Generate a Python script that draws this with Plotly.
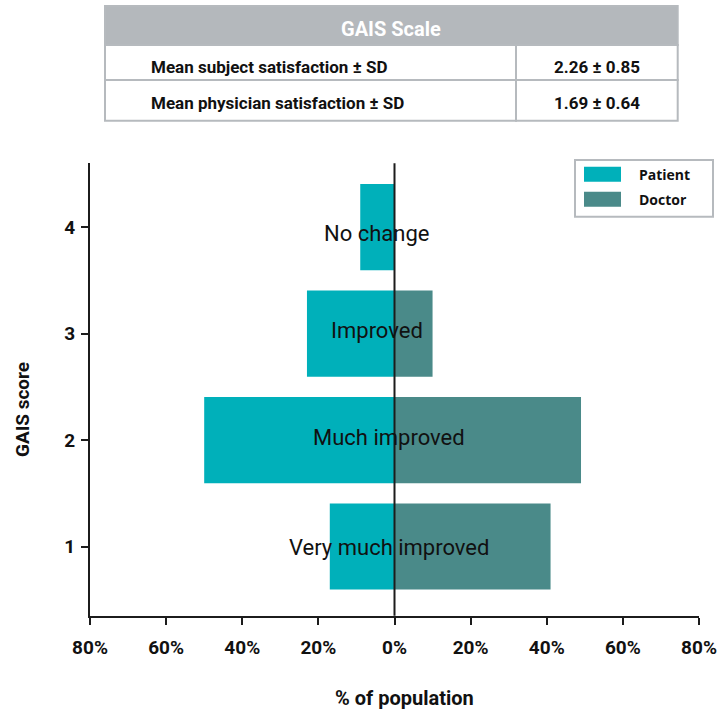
import plotly.graph_objects as go

# ---- data ----
scores = [1, 2, 3, 4]
categories = ["Very much improved", "Much improved", "Improved", "No change"]
patient_pct = [17, 50, 23, 9]
doctor_pct = [41, 49, 10, 0]
x_ticks = [-80, -60, -40, -20, 0, 20, 40, 60, 80]
x_tick_text = ["80%", "60%", "40%", "20%", "0%", "20%", "40%", "60%", "80%"]

table_title = "GAIS Scale"
table_rows = ["Mean subject satisfaction ± SD", "Mean physician satisfaction ± SD"]
table_values = ["2.26 ± 0.85", "1.69 ± 0.64"]

series_names = ["Patient", "Doctor"]

# ---- styling ----
W, H = 717, 711
PATIENT = "#00b0ba"
DOCTOR = "#4a8a89"
GREY = "#b6babe"
INK = "#1c1c1c"
FONT = "Roboto"


def px(x):
    return x / W


def py(y):
    return 1 - y / H


fig = go.Figure()
fig.add_trace(go.Bar(
    y=scores, x=[-v for v in patient_pct], base=0, orientation="h",
    name=series_names[0], marker=dict(color=PATIENT, line=dict(width=0)),
    width=0.81, customdata=patient_pct,
    hovertemplate="GAIS %{y}: %{customdata}%<extra>Patient</extra>",
))
fig.add_trace(go.Bar(
    y=scores, x=doctor_pct, base=0, orientation="h",
    name=series_names[1], marker=dict(color=DOCTOR, line=dict(width=0)),
    width=0.81,
    hovertemplate="GAIS %{y}: %{x}%<extra>Doctor</extra>",
))

shapes = []
annotations = []

# zero line drawn over the bars
shapes.append(dict(type="line", xref="x", yref="y domain", x0=0, x1=0, y0=0, y1=1,
                   line=dict(color=INK, width=2), layer="above"))

# category labels over the bars
label_xshift = [-6, -6, -18, -18]
label_yshift = [-1, 3, 3, -6]
for s, c, dx, dy in zip(scores, categories, label_xshift, label_yshift):
    annotations.append(dict(x=0, y=s, xref="x", yref="y", text=c, showarrow=False,
                            xanchor="center", yanchor="middle",
                            xshift=dx, yshift=dy,
                            font=dict(family=FONT, size=22, color="#111")))

# legend box
shapes.append(dict(type="rect", xref="paper", yref="paper",
                   x0=px(575), x1=px(713), y0=py(216.7), y1=py(160),
                   line=dict(color=GREY, width=2), fillcolor="white"))
for i, (nm, col) in enumerate(zip(series_names, [PATIENT, DOCTOR])):
    top = 166.7 + i * 25
    shapes.append(dict(type="rect", xref="paper", yref="paper",
                       x0=px(584), x1=px(621), y0=py(top + 15), y1=py(top),
                       line=dict(width=0), fillcolor=col))
    annotations.append(dict(x=px(637), y=py(top + 8), xref="paper", yref="paper",
                            text="<b>" + nm + "</b>", showarrow=False,
                            xanchor="left", yanchor="middle",
                            font=dict(family="Open Sans", size=14, color="#111")))

# summary table
tx0, tx1, tdiv = 105, 677.7, 516
ty = [6, 45, 80, 120.7]
shapes.append(dict(type="rect", xref="paper", yref="paper", layer="below",
                   x0=px(tx0), x1=px(tx1), y0=py(ty[1]), y1=py(ty[0]),
                   line=dict(color=GREY, width=2), fillcolor="#b4b8bc"))
for r in range(2):
    for (a, b) in [(tx0, tdiv), (tdiv, tx1)]:
        shapes.append(dict(type="rect", xref="paper", yref="paper", layer="below",
                           x0=px(a), x1=px(b), y0=py(ty[r + 2]), y1=py(ty[r + 1]),
                           line=dict(color=GREY, width=2), fillcolor="white"))
annotations.append(dict(x=px((tx0 + tx1) / 2), y=py(29), xref="paper", yref="paper",
                        text="<b>" + table_title + "</b>", showarrow=False,
                        xanchor="center", yanchor="middle",
                        font=dict(family=FONT, size=20, color="white")))
row_centres = [67, 103]
for txt, val, yc in zip(table_rows, table_values, row_centres):
    annotations.append(dict(x=px(149), y=py(yc), xref="paper", yref="paper",
                            text="<b>" + txt + "</b>", showarrow=False,
                            xanchor="left", yanchor="middle",
                            font=dict(family=FONT, size=17, color="#111")))
    annotations.append(dict(x=px((tdiv + tx1) / 2), y=py(yc), xref="paper", yref="paper",
                            text="<b>" + val + "</b>", showarrow=False,
                            xanchor="center", yanchor="middle",
                            font=dict(family=FONT, size=17, color="#111")))

# axis titles
annotations.append(dict(x=px(22), y=py(410), xref="paper", yref="paper",
                        text="<b>GAIS score</b>", showarrow=False, textangle=-90,
                        xanchor="center", yanchor="middle",
                        font=dict(family=FONT, size=19, color="#111")))
annotations.append(dict(x=px(404), y=py(698), xref="paper", yref="paper",
                        text="<b>% of population</b>", showarrow=False,
                        xanchor="center", yanchor="middle",
                        font=dict(family=FONT, size=20, color="#111")))

fig.update_layout(
    width=W, height=H,
    margin=dict(l=0, r=0, t=0, b=0),
    paper_bgcolor="white", plot_bgcolor="white",
    barmode="overlay",
    showlegend=False,
    shapes=shapes, annotations=annotations,
    xaxis=dict(
        domain=[px(90), px(699)], range=[-80, 80],
        tickvals=x_ticks, ticktext=x_tick_text,
        ticks="outside", ticklen=7, tickwidth=2, tickcolor=INK,
        showline=True, linecolor=INK, linewidth=2,
        showgrid=False, zeroline=False, automargin=False,
        ticklabeloverflow="allow", ticklabelstandoff=6,
        tickfont=dict(family=FONT, size=19, color="#111", weight="bold"),
        anchor="y",
    ),
    yaxis=dict(
        domain=[py(615.7), py(163.3)], range=[0.35, 4.6],
        tickvals=scores, ticktext=[str(s) for s in scores],
        ticks="outside", ticklen=7, tickwidth=2, tickcolor=INK,
        showline=True, linecolor=INK, linewidth=2,
        showgrid=False, zeroline=False, automargin=False,
        ticklabelstandoff=2,
        tickfont=dict(family=FONT, size=19, color="#111", weight="bold"),
        anchor="x",
    ),
)

fig.write_html("out.html")
